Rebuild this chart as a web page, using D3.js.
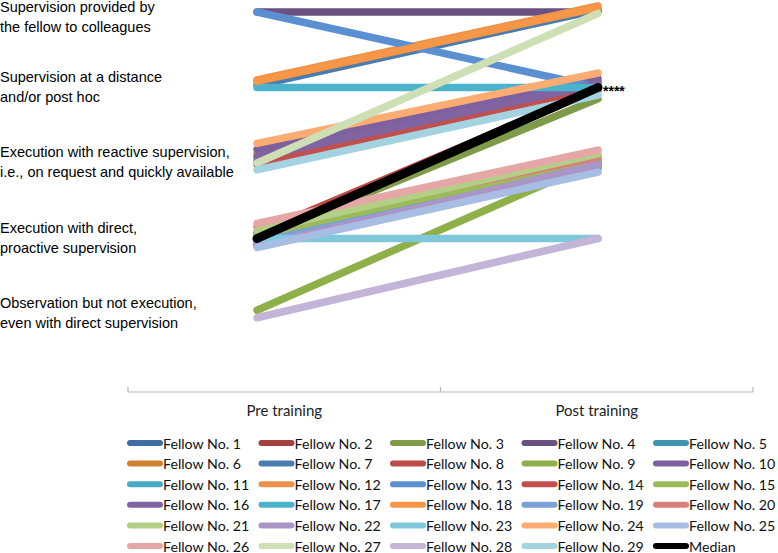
<!DOCTYPE html>
<html><head><meta charset="utf-8">
<script src="https://cdn.jsdelivr.net/npm/d3@7"></script>
<style>body{margin:0;background:#fff}svg{display:block}</style>
</head><body>
<script>
const timepoints = ["Pre training", "Post training"];
const levelLabels = [
  ["Observation but not execution,", "even with direct supervision"],
  ["Execution with direct,", "proactive supervision"],
  ["Execution with reactive supervision,", "i.e., on request and quickly available"],
  ["Supervision at a distance", "and/or post hoc"],
  ["Supervision provided by", "the fellow to colleagues"]
];
const levelValues = [1, 2, 3, 4, 5];
const seriesNames = ["Fellow No. 1","Fellow No. 2","Fellow No. 3","Fellow No. 4","Fellow No. 5",
  "Fellow No. 6","Fellow No. 7","Fellow No. 8","Fellow No. 9","Fellow No. 10",
  "Fellow No. 11","Fellow No. 12","Fellow No. 13","Fellow No. 14","Fellow No. 15",
  "Fellow No. 16","Fellow No. 17","Fellow No. 18","Fellow No. 19","Fellow No. 20",
  "Fellow No. 21","Fellow No. 22","Fellow No. 23","Fellow No. 24","Fellow No. 25",
  "Fellow No. 26","Fellow No. 27","Fellow No. 28","Fellow No. 29","Median"];
const preValues  = [1.92,2.02,2.00,5.00,3.03, 3.12,4.03,2.07,1.05,3.18, 1.97,4.10,5.00,2.98,2.04,
  3.08,4.00,4.08,1.95,2.15, 2.10,1.90,2.00,3.26,1.88, 2.20,3.00,0.95,2.91, 2];
const postValues = [2.95,3.02,3.85,5.00,4.02, 4.08,5.03,3.98,3.03,4.12, 2.96,5.08,4.00,3.97,3.05,
  4.05,4.00,5.06,2.93,3.08, 3.12,2.98,2.00,4.19,2.88, 3.17,4.98,2.00,3.90, 4];
const seriesColors = ["#3f6ea6","#a4403d","#7f9a48","#6a5181","#3e96ae",
  "#d0802f","#4a7cb0","#be4b48","#8db048","#7d60a0",
  "#46aac4","#ec914c","#5a8fd2","#c0504d","#9bbb59",
  "#8064a2","#4bb3cc","#f79646","#7ba1d6","#d9807c",
  "#b3cf86","#a996c7","#7fc7da","#fbac72","#a8bde3",
  "#e4a7a5","#cfdfb5","#c2b5d8","#a3d3e1","#000000"];
const significance = "****";

const W = 778, H = 553;
const svg = d3.select("body").append("svg").attr("width", W).attr("height", H);

const x = d3.scalePoint().domain(timepoints).range([257, 598]);
const y = d3.scaleLinear().domain([1, 5]).range([314, 12]);

// y labels
const yl = svg.append("g").attr("font-family", "'Liberation Sans', Arial, sans-serif")
  .attr("font-size", 14.5).attr("fill", "#000");
levelValues.forEach((v, i) => {
  const t = yl.append("text").attr("x", 0).attr("y", Math.max(y(v) - 6, 12));
  levelLabels[i].forEach((ln, j) => {
    t.append("tspan").attr("x", 0).attr("dy", j === 0 ? 0 : 20).text(ln);
  });
});

// lines
const data = seriesNames.map((n, i) => ({name: n, color: seriesColors[i],
  pts: [[timepoints[0], preValues[i]], [timepoints[1], postValues[i]]]}));
const line = d3.line().x(d => x(d[0])).y(d => y(d[1]));
svg.append("g").selectAll("path").data(data).join("path")
  .attr("d", d => line(d.pts)).attr("fill", "none")
  .attr("stroke", d => d.color).attr("stroke-width", d => d.name === "Median" ? 9 : 7.5)
  .attr("stroke-linecap", "round");

const med = data[data.length - 1];
svg.append("text").attr("x", x(timepoints[1]) + 5).attr("y", y(med.pts[1][1]) + 8)
  .attr("font-family", "'Liberation Sans', Arial, sans-serif").attr("font-size", 14)
  .attr("font-weight", "bold").text(significance);

// x axis (band)
const xb = d3.scaleBand().domain(timepoints).range([128, 753]);
const ax = svg.append("g").attr("transform", "translate(0,392)");
ax.append("line").attr("x1", xb.range()[0]).attr("x2", xb.range()[1]).attr("stroke", "#b8b8b8").attr("stroke-width", 1.2);
const edges = [xb.range()[0]].concat(timepoints.map(t => xb(t) + xb.bandwidth()));
ax.selectAll("line.tk").data(edges).join("line").attr("class", "tk")
  .attr("x1", d => d).attr("x2", d => d).attr("y1", 0).attr("y2", -5).attr("stroke", "#b8b8b8").attr("stroke-width", 1.2);
ax.selectAll("text").data(timepoints).join("text")
  .attr("x", d => xb(d) + xb.bandwidth() / 2).attr("y", 24).attr("text-anchor", "middle")
  .attr("font-family", "Lato, 'Open Sans', sans-serif").attr("font-size", 15).attr("fill", "#222").text(d => d);

// legend
const lg = svg.append("g");
const colX = [127, 258.5, 390, 521.5, 653];
data.forEach((d, i) => {
  const c = i % 5, r = Math.floor(i / 5);
  const gx = colX[c], gy = 443 + r * 20.6;
  lg.append("line").attr("x1", gx + 3).attr("x2", gx + 33).attr("y1", gy).attr("y2", gy)
    .attr("stroke", d.color).attr("stroke-width", 6).attr("stroke-linecap", "round");
  lg.append("text").attr("x", gx + 36).attr("y", gy + 5.5)
    .attr("font-family", "Lato, 'Open Sans', sans-serif").attr("font-size", 14.2).attr("fill", "#111").text(d.name);
});
</script>
</body></html>
